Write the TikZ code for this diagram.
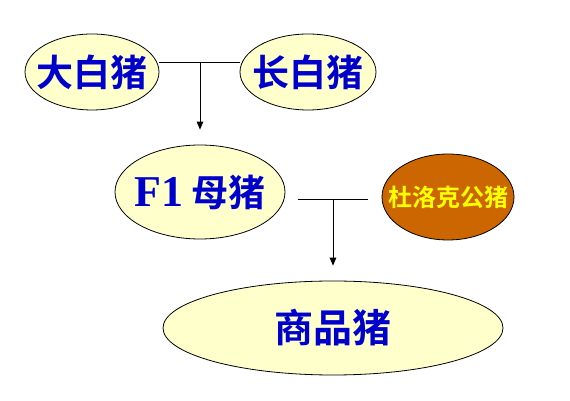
\documentclass[tikz,border=0pt]{standalone}
\usepackage{fontspec}
\usetikzlibrary{arrows,shapes.geometric,calc}
\newfontfamily\cjk{Noto Sans CJK SC Bold}
\newfontfamily\fserif{Liberation Serif}
\definecolor{pigfill}{HTML}{FFFFCC}
\definecolor{pigtext}{HTML}{0000CC}
\definecolor{durocfill}{HTML}{CC6600}
\definecolor{duroctext}{HTML}{FFFF00}
\tikzset{pig/.style={ellipse,draw,line width=0.8pt,fill=pigfill,text=pigtext,inner xsep=-16pt,inner ysep=0pt,
    font=\cjk\fontsize{37}{37}\selectfont}}

\begin{document}
\begin{tikzpicture}[x=1pt,y=1pt,>=triangle 45,line width=0.8pt]
      \useasboundingbox (0,0) rectangle (570,401);
      \node[pig,minimum width=134,minimum height=76] (dabai) at (92,329) {大白猪};
      \node[pig,minimum width=136,minimum height=76] (changbai) at (308,329) {长白猪};
      \node[pig,minimum width=170,minimum height=94] (f1) at (200,209) {{\fserif\bfseries\fontsize{44}{44}\selectfont F1} 母猪};
      \node[pig,fill=durocfill,text=duroctext,minimum width=132,minimum height=86,
            font=\cjk\fontsize{24}{24}\selectfont] (duroc) at (448,204) {杜洛克公猪};
      \node[pig,minimum width=340,minimum height=94,font=\cjk\fontsize{39}{39}\selectfont] (shangpin) at (333,73) {商品猪};
      \coordinate (j1) at (200,339);
      \coordinate (j2) at (333,202);
      \draw (dabai.east |- j1) -- (changbai.west |- j1); % dabai -- changbai
      \draw [->] (j1) -- ($(f1.north)+(0,15)$); % -> f1
      \draw ($(f1.east |- j2)+(13,0)$) -- ($(duroc.west |- j2)+(-14,0)$); % f1 -- duroc
      \draw [->] (j2) -- ($(shangpin.north)+(0,15)$); % -> shangpin
    \end{tikzpicture}
\end{document}
